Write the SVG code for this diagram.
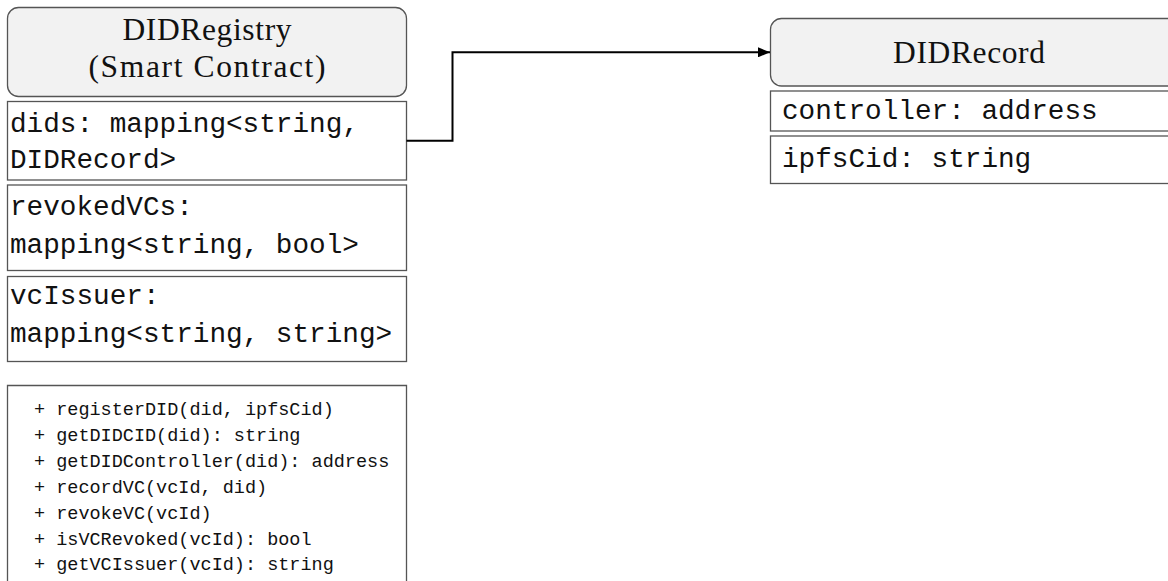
<svg xmlns="http://www.w3.org/2000/svg" width="1168" height="581" viewBox="0 0 1168 581">
<defs>
<style>
.hdr{fill:#f2f2f2;stroke:#555;stroke-width:1.3}
.box{fill:#fff;stroke:#555;stroke-width:1.3}
.title{font-family:"Liberation Serif","DejaVu Serif",serif;font-size:31.5px;fill:#111;text-anchor:middle}
.attr{font-family:"Liberation Mono","DejaVu Sans Mono",monospace;font-size:27.7px;fill:#111}
.meth{font-family:"Liberation Mono","DejaVu Sans Mono",monospace;font-size:18.5px;fill:#111}
.conn{fill:none;stroke:#000;stroke-width:2}
</style>
<marker id="arr" viewBox="0 0 12 10" refX="12" refY="5" markerWidth="12" markerHeight="10" markerUnits="userSpaceOnUse" orient="auto">
<path d="M0,0 L12,5 L0,10 z" fill="#000"/>
</marker>
</defs>
<rect width="1168" height="581" fill="#fff"/>
<g id="didregistry">
<rect class="hdr" x="7.5" y="7.5" width="399" height="89" rx="11"/>
<text class="title" x="207" y="39.5" textLength="169">DIDRegistry</text>
<text class="title" x="207" y="77" textLength="237">(Smart Contract)</text>
<rect class="box" x="7.5" y="101.5" width="399" height="78.5"/>
<text class="attr" x="10" y="131.5">dids: mapping&lt;string,</text>
<text class="attr" x="10" y="168">DIDRecord&gt;</text>
<rect class="box" x="7.5" y="185" width="399" height="85.5"/>
<text class="attr" x="10" y="215">revokedVCs:</text>
<text class="attr" x="10" y="252.5">mapping&lt;string, bool&gt;</text>
<rect class="box" x="7.5" y="276.5" width="399" height="85"/>
<text class="attr" x="10" y="303.5">vcIssuer:</text>
<text class="attr" x="10" y="341.5">mapping&lt;string, string&gt;</text>
<path class="box" d="M7.5,590 V385.5 H406.5 V590"/>
<text class="meth" x="34" y="415">+ registerDID(did, ipfsCid)</text>
<text class="meth" x="34" y="441">+ getDIDCID(did): string</text>
<text class="meth" x="34" y="467">+ getDIDController(did): address</text>
<text class="meth" x="34" y="493">+ recordVC(vcId, did)</text>
<text class="meth" x="34" y="519">+ revokeVC(vcId)</text>
<text class="meth" x="34" y="545">+ isVCRevoked(vcId): bool</text>
<text class="meth" x="34" y="570">+ getVCIssuer(vcId): string</text>
</g>
<g id="didrecord">
<rect class="hdr" x="770.5" y="18.5" width="410" height="67.5" rx="11"/>
<text class="title" x="969" y="63.3" textLength="152">DIDRecord</text>
<rect class="box" x="770.5" y="91" width="410" height="40"/>
<text class="attr" x="782" y="118.5">controller: address</text>
<rect class="box" x="770.5" y="136" width="410" height="47.5"/>
<text class="attr" x="782" y="166.5">ipfsCid: string</text>
</g>
<g id="connectors">
<path class="conn" d="M406.5,140.7 H452.5 V52.3 H770" marker-end="url(#arr)"/>
</g>
</svg>
